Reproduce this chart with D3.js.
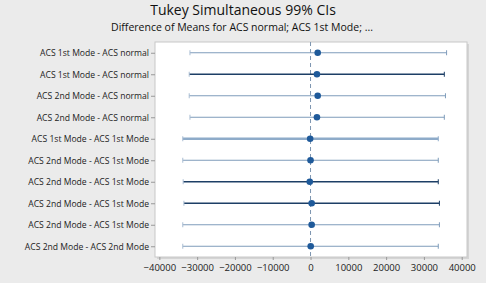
<!DOCTYPE html>
<html>
<head>
<meta charset="utf-8">
<script src="https://cdn.jsdelivr.net/npm/d3@7"></script>
<style>
  body { margin: 0; background: #ebebeb; }
  svg { display: block; font-family: "Open Sans", "DejaVu Sans", sans-serif; }
</style>
</head>
<body>
<div id="chart"></div>
<script>
// DATA
const comparisons = [
    "ACS 1st Mode - ACS normal",
    "ACS 1st Mode - ACS normal",
    "ACS 2nd Mode - ACS normal",
    "ACS 2nd Mode - ACS normal",
    "ACS 1st Mode - ACS 1st Mode",
    "ACS 2nd Mode - ACS 1st Mode",
    "ACS 2nd Mode - ACS 1st Mode",
    "ACS 2nd Mode - ACS 1st Mode",
    "ACS 2nd Mode - ACS 1st Mode",
    "ACS 2nd Mode - ACS 2nd Mode"
];
const meanDiff = [1900, 1700, 1900, 1700, -100, 0, -200, 300, 300, 50];
const lowerCI = [-31900, -32100, -32100, -31900, -33800, -33800, -33700, -33500, -33800, -33800];
const upperCI = [36000, 35400, 35700, 35400, 33800, 33800, 33800, 34100, 34100, 33800];
const lineStyle = ["light", "dark", "light", "light", "thick", "light", "dark", "dark", "light", "light"];
const xTicks = [-40000, -30000, -20000, -10000, 0, 10000, 20000, 30000, 40000];

const W = 486, H = 283;
const margin = { top: 42, right: 19, bottom: 26, left: 155 };
const width = W - margin.left - margin.right;
const height = H - margin.top - margin.bottom;

const svg = d3.select("#chart").append("svg")
    .attr("width", W)
    .attr("height", H);

// TITLES
svg.append("text")
    .attr("x", 243).attr("y", 15)
    .attr("text-anchor", "middle")
    .attr("font-size", "14px")
    .attr("fill", "#111")
    .text("Tukey Simultaneous 99% CIs");

svg.append("text")
    .attr("x", 242).attr("y", 31)
    .attr("text-anchor", "middle")
    .attr("font-size", "10.5px")
    .attr("fill", "#111")
    .text("Difference of Means for ACS normal; ACS 1st Mode; ...");

const g = svg.append("g")
    .attr("transform", `translate(${margin.left},${margin.top})`);

// SCALES
const x = d3.scaleLinear().domain([-41150, 41400]).range([0, width]);
const y = d3.scalePoint().domain(d3.range(comparisons.length)).range([0, height]).padding(0.5);

// PLOT AREA
g.append("rect")
    .attr("x", 2).attr("y", 2)
    .attr("width", width).attr("height", height)
    .attr("fill", "#d4d4d4");
g.append("rect")
    .attr("width", width).attr("height", height)
    .attr("fill", "#fff")
    .attr("stroke", "#c8c8c8");

// AXES
const xAxis = g.append("g")
    .attr("transform", `translate(0,${height})`)
    .call(d3.axisBottom(x).tickValues(xTicks).tickSize(3).tickPadding(4).tickFormat(d3.format("d")));
xAxis.select(".domain").remove();
xAxis.selectAll("line").attr("stroke", "#999");
xAxis.selectAll("text").attr("font-size", "9.5px").attr("fill", "#222")
    .attr("font-family", "\"Open Sans\", sans-serif");

const yAxis = g.append("g")
    .call(d3.axisLeft(y).tickSize(4).tickPadding(2).tickFormat(i => comparisons[i]));
yAxis.select(".domain").remove();
yAxis.selectAll("line").attr("stroke", "#999");
yAxis.selectAll("text").attr("font-size", "8.6px").attr("fill", "#222")
    .attr("font-family", "\"Open Sans\", sans-serif");

// ZERO REFERENCE
g.append("line")
    .attr("x1", x(0)).attr("x2", x(0))
    .attr("y1", 0).attr("y2", height)
    .attr("stroke", "#7d96b0")
    .attr("stroke-dasharray", "4,3");

// INTERVALS
const colors = { light: "#7f9cbb", dark: "#1d3f66", thick: "#8eabc9" };
const widths = { light: 1, dark: 1.3, thick: 2.4 };
const rows = d3.range(comparisons.length);

g.selectAll(".ci")
    .data(rows)
    .enter().append("line")
    .attr("class", "ci")
    .attr("x1", i => x(lowerCI[i])).attr("x2", i => x(upperCI[i]))
    .attr("y1", i => y(i)).attr("y2", i => y(i))
    .attr("stroke", i => colors[lineStyle[i]])
    .attr("stroke-width", i => widths[lineStyle[i]]);

["lo", "hi"].forEach(side => {
    g.selectAll(".cap-" + side)
        .data(rows)
        .enter().append("line")
        .attr("class", "cap-" + side)
        .attr("x1", i => x(side === "lo" ? lowerCI[i] : upperCI[i]))
        .attr("x2", i => x(side === "lo" ? lowerCI[i] : upperCI[i]))
        .attr("y1", i => y(i) - 2.5).attr("y2", i => y(i) + 2.5)
        .attr("stroke", i => side === "lo" ? "#a9bdd3" : colors[lineStyle[i]])
        .attr("stroke-width", 1);
});

g.selectAll(".dot")
    .data(rows)
    .enter().append("circle")
    .attr("class", "dot")
    .attr("cx", i => x(meanDiff[i]))
    .attr("cy", i => y(i))
    .attr("r", 3.3)
    .attr("fill", "#1f5a9a");
</script>
</body>
</html>
